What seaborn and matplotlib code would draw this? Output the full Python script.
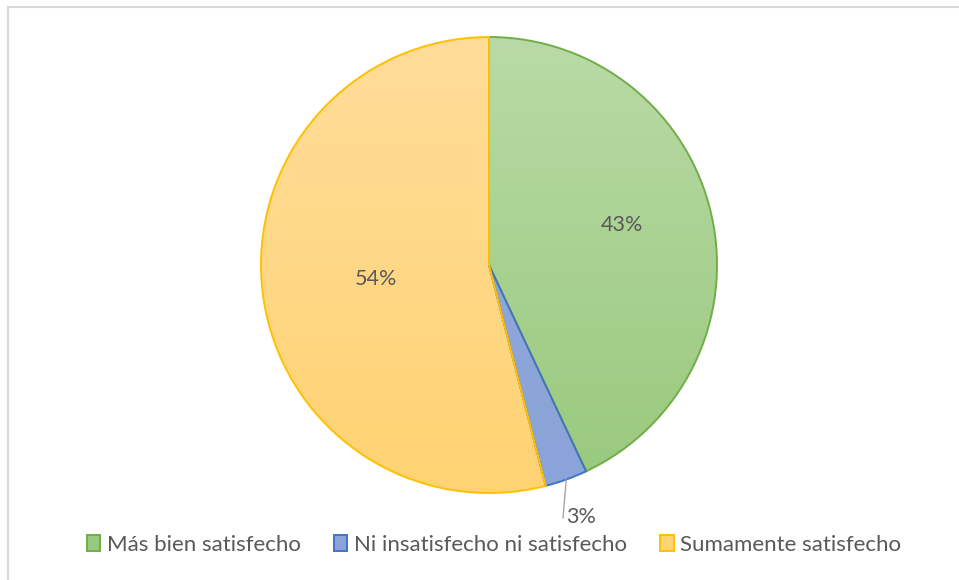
import numpy as np
import matplotlib
matplotlib.use("Agg")
import matplotlib.pyplot as plt
from matplotlib.patches import Patch, Rectangle
import seaborn as sns

categories = ["Más bien satisfecho", "Ni insatisfecho ni satisfecho", "Sumamente satisfecho"]
shares = [43, 3, 54]
labels = ["43%", "3%", "54%"]

edge_colors = ["#70AD47", "#4472C4", "#FFC000"]
top_colors = ["#B9DAA6", "#94ABDC", "#FFDC9A"]
bottom_colors = ["#98C97C", "#8AA3D8", "#FFD372"]

sns.set_theme(style="white")
plt.rcParams["font.family"] = ["Lato", "DejaVu Sans"]
text_color = "#595959"

W, H = 959, 580
cx, cy, R = 489, 265, 228
fig = plt.figure(figsize=(W / 100, H / 100), dpi=100)
ax = fig.add_axes([0, 0, 1, 1])

wedges, _ = ax.pie(shares, startangle=90, counterclock=False, radius=1,
                   colors=["none"] * 3,
                   wedgeprops=dict(linewidth=1.4, edgecolor="none"))

# vertical gradient fill clipped to each wedge
grad = np.linspace(0, 1, 256)[:, None]
for w, ec, c0, c1 in zip(wedges, edge_colors, top_colors, bottom_colors):
    cmap = matplotlib.colors.LinearSegmentedColormap.from_list("g", [c0, c1])
    im = ax.imshow(grad, extent=[-1, 1, -1, 1], cmap=cmap, aspect="auto",
                   origin="upper", zorder=1)
    im.set_clip_path(w)
    w.set_edgecolor(ec)
    w.set_zorder(2)
ax.set_xlim(-cx / R, (W - cx) / R)
ax.set_ylim((cy - H) / R, cy / R)
ax.set_aspect("equal")
ax.axis("off")

# data labels
angles = []
start = 90.0
for s in shares:
    span = s / sum(shares) * 360
    angles.append(start - span / 2)
    start -= span
label_place = {0: (4.0, 0.61), 2: (0.0, 0.5)}  # (angle shift, radius) per inside label
for i, (a, lab) in enumerate(zip(angles, labels)):
    if i == 1:
        # small slice: label outside with leader line
        t = np.deg2rad(a)
        x0, y0 = np.cos(t) * 1.0, np.sin(t) * 1.0
        x1, y1 = (563 - cx) / R, (cy - 518) / R
        ax.plot([x0, x1], [y0, y1], color="#A6A6A6", lw=1.0, zorder=3)
        ax.text(x1 + 0.015, (cy - 517) / R, lab, ha="left", va="center",
                fontsize=15.5, color=text_color)
    else:
        shift, d = label_place[i]
        t = np.deg2rad(a + shift)
        ax.text(np.cos(t) * d, np.sin(t) * d, lab, ha="center", va="center",
                fontsize=15.5, color=text_color)

# outer frame
fig.patches.append(Rectangle((8 / W, -0.05), 1.1, (H - 7) / H + 0.05,
                             transform=fig.transFigure, fill=False,
                             edgecolor="#D9D9D9", linewidth=1.5))

handles = [Patch(facecolor=tc, edgecolor=ec, linewidth=1.4)
           for tc, ec in zip(bottom_colors, edge_colors)]
leg = fig.legend(handles, categories, loc="center", ncol=3,
                 bbox_to_anchor=(494 / W, 1 - 545 / H), frameon=False,
                 fontsize=16, handlelength=0.6, handleheight=0.7,
                 handletextpad=0.3, columnspacing=1.5, labelcolor=text_color)

fig.savefig("out.png", dpi=100)
